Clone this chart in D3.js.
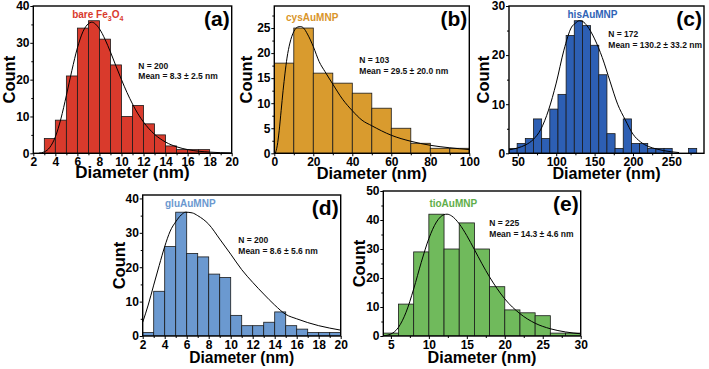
<!DOCTYPE html>
<html><head><meta charset="utf-8">
<script src="https://cdn.jsdelivr.net/npm/d3@7"></script>
<style>
body{margin:0;background:#fff}
svg{display:block}
text{font-family:"Liberation Sans",Arial,Helvetica,sans-serif;font-weight:bold}
</style>
</head><body>
<svg id="chart" width="709" height="369"></svg>
<script>
// ---------- data ----------
// (a) bare Fe3O4
const bareBinStart = 3, bareBinWidth = 1;
const bareCounts = [4,9,21,34,36,31,24,10,13,8,5,2,1,1,1];
const bareCurveX = [2.5,3,3.5,4,4.5,5,5.5,6,6.5,7,7.3,8,8.5,9,9.5,10,10.5,11,11.5,12,13,14,15,16,18,20];
const bareCurveY = [0.03,0.38,1.61,4.47,9.33,15.7,22.5,28.6,33.0,35.2,35.6,33.8,31.0,27.5,23.7,20.0,16.5,13.4,10.7,8.49,5.16,3.05,1.77,1.01,0.32,0.10];
// (b) cysAuMNP
const cysBinStart = 0, cysBinWidth = 10;
const cysCounts = [18,25,16,14,12,9,5,2,1,1];
const cysCurveX = [0.5,1.5,2.5,3.5,4.5,5.5,6.5,8,10,12,13.5,15,17,20,23,26,30,35,40,45,50,60,70,80,90,100];
const cysCurveY = [0,1.5,4.5,8.5,12.5,16,19,22,24.3,25.2,25.3,25,23.8,21.3,18.3,16.3,13.8,10.8,8.5,6.6,5.5,3.6,2.4,1.6,1.1,0.75];
// (c) hisAuMNP
const hisBinStart = 38.5, hisBinWidth = 10.63;
const hisCounts = [1,2,3,7,3,9,12,24,27,26,22,16,4,1,7,2,2,1,1,1,0,0,1];
const hisCurveX = [38.5,50,60,70,80,90,100,110,120,125,130,135,140,150,160,170,180,190,200,210,220,230,240,250,260];
const hisCurveY = [0.7,1.1,1.7,2.8,4.9,8.8,14.3,21,25.7,26.5,27,26.8,26,23.3,19.5,14.7,10,6.8,3.9,2.3,1.4,0.9,0.55,0.3,0.15];
// (d) gluAuMNP
const gluBinStart = 2, gluBinWidth = 1;
const gluCounts = [1,13,26,36,24,23,18,17,6,3,3,4,7,3,2,1,1,1];
const gluCurveX = [2,2.5,3,3.5,4,4.5,5,5.5,5.9,6.5,7,8,9,10,11,12,13,14,15,16,17,18,19,20];
const gluCurveY = [4.0,9,14.8,20.5,26,30.5,33.2,35.2,36,35.8,35,32.5,28.2,23.8,19.3,15.6,12.2,9.0,6.3,5.0,3.9,3.0,2.3,1.7];
// (e) tioAuMNP
const tioBinStart = 4, tioBinWidth = 2;
const tioCounts = [1,11,29,42,30,39,30,17,9,8,7,1,1];
const tioCurveX = [4,5,6,7,8,9,10,11,12,12.4,13,14,15,16,17,18,19,20,22,24,26,28,30];
const tioCurveY = [0.07,0.67,3.0,8.2,16.2,25.4,33.6,39.3,41.85,42,41.4,38.7,34.6,29.8,24.9,20.35,16.3,12.8,7.7,4.4,2.5,1.4,0.76];

// tick values
const aXTicks = [2,4,6,8,10,12,14,16,18,20], aYTicks = [0,10,20,30,40];
const bXTicks = [0,20,40,60,80,100], bYTicks = [0,5,10,15,20,25];
const cXTicks = [50,100,150,200,250], cYTicks = [0,10,20,30];
const dXTicks = [2,4,6,8,10,12,14,16,18,20], dYTicks = [0,10,20,30,40];
const eXTicks = [5,10,15,20,25,30], eYTicks = [0,10,20,30,40,50];

const panelLabels = ["(a)","(b)","(c)","(d)","(e)"];
const stats = [
  ["N = 200","Mean = 8.3 \u00b1 2.5 nm"],
  ["N = 103","Mean = 29.5 \u00b1 20.0 nm"],
  ["N = 172","Mean = 130.2 \u00b1 33.2 nm"],
  ["N = 200","Mean = 8.6 \u00b1 5.6 nm"],
  ["N = 225","Mean = 14.3 \u00b1 4.6 nm"]
];

// ---------- layout ----------
const panels = [
  {id:"a", L:33.3, R:231.7, T:6, B:153.3, xd:[2,20], yd:[0,40], xt:aXTicks, xm:1, yt:aYTicks, ym:5,
   start:bareBinStart, w:bareBinWidth, counts:bareCounts, cx:bareCurveX, cy:bareCurveY,
   color:"#d93a2c", nameColor:"#d93a2c", name:[["bare Fe",0],["3",1],["O",0],["4",1]], nameX:97.8, nameY:18.3,
   statX:138.3, statY:68.5, xtSize:17, xtOff:24.7, ytOff:18.3},
  {id:"b", L:274.3, R:469.3, T:6, B:153.3, xd:[0,100], yd:[0,29.4], xt:bXTicks, xm:10, yt:bYTicks, ym:2.5,
   start:cysBinStart, w:cysBinWidth, counts:cysCounts, cx:cysCurveX, cy:cysCurveY,
   color:"#d99b2e", nameColor:"#d9952a", name:[["cysAuMNP",0]], nameX:312.2, nameY:20.5,
   statX:359.3, statY:63.3, xtSize:16.4, xtOff:25.7, ytOff:22.6},
  {id:"c", L:509, R:704, T:6, B:153.3, xd:[38.5,292.5], yd:[0,30], xt:cXTicks, xm:25, yt:cYTicks, ym:5,
   start:hisBinStart, w:hisBinWidth, counts:hisCounts, cx:hisCurveX, cy:hisCurveY,
   color:"#2d5fb4", nameColor:"#2f63b6", name:[["hisAuMNP",0]], nameX:592.5, nameY:18.3,
   statX:608.3, statY:37.3, xtSize:16.1, xtOff:25.7, ytOff:19.7},
  {id:"d", L:142.7, R:340.7, T:195, B:336, xd:[2,20], yd:[0,41], xt:dXTicks, xm:1, yt:dYTicks, ym:5,
   start:gluBinStart, w:gluBinWidth, counts:gluCounts, cx:gluCurveX, cy:gluCurveY,
   color:"#6b99d0", nameColor:"#6b98cf", name:[["gluAuMNP",0]], nameX:190.3, nameY:206.7,
   statX:238.3, statY:243.3, xtSize:15.6, xtOff:26.7, ytOff:17.7},
  {id:"e", L:383.3, R:580.7, T:191, B:336, xd:[4,30], yd:[0,50], xt:eXTicks, xm:2.5, yt:eYTicks, ym:5,
   start:tioBinStart, w:tioBinWidth, counts:tioCounts, cx:tioCurveX, cy:tioCurveY,
   color:"#70ba5c", nameColor:"#5fae4a", name:[["tioAuMNP",0]], nameX:453.3, nameY:206.7,
   statX:489.3, statY:226, xtSize:16.2, xtOff:27.3, ytOff:18.3}
];

const svg = d3.select("#chart");
const defs = svg.append("defs");

function range(a,b,s){const r=[];for(let v=a;v<=b+1e-9;v+=s)r.push(+v.toFixed(6));return r;}

panels.forEach((p,pi)=>{
  const x = d3.scaleLinear().domain(p.xd).range([p.L,p.R]);
  const y = d3.scaleLinear().domain(p.yd).range([p.B,p.T]);
  defs.append("clipPath").attr("id","clip-"+p.id).append("rect")
    .attr("x",p.L).attr("y",p.T).attr("width",p.R-p.L).attr("height",p.B-p.T);
  const g = svg.append("g");

  // bars
  g.append("g").attr("clip-path","url(#clip-"+p.id+")")
    .selectAll("rect").data(p.counts).join("rect")
    .attr("x",(d,i)=>x(p.start+i*p.w))
    .attr("width",(d,i)=>x(p.start+(i+1)*p.w)-x(p.start+i*p.w))
    .attr("y",d=>y(d)).attr("height",d=>y(0)-y(d))
    .attr("fill",p.color).attr("stroke","#1a1a1a").attr("stroke-width",0.8);

  // fit curve
  const line = d3.line().x(d=>x(d[0])).y(d=>y(d[1])).curve(d3.curveMonotoneX);
  g.append("path").attr("clip-path","url(#clip-"+p.id+")")
    .datum(p.cx.map((v,i)=>[v,p.cy[i]]))
    .attr("d",line).attr("fill","none").attr("stroke","#000").attr("stroke-width",1);

  // minor ticks
  const xMinor = range(Math.ceil(p.xd[0]/p.xm)*p.xm, p.xd[1], p.xm).filter(v=>!p.xt.includes(v));
  const yMinor = range(0, p.yd[1], p.ym).filter(v=>!p.yt.includes(v));
  g.append("g").attr("transform",`translate(0,${p.B})`)
    .call(d3.axisBottom(x).tickValues(xMinor).tickSize(2).tickSizeOuter(0).tickFormat(""))
    .call(s=>s.select(".domain").remove());
  g.append("g").attr("transform",`translate(${p.L},0)`)
    .call(d3.axisLeft(y).tickValues(yMinor).tickSize(2).tickSizeOuter(0).tickFormat(""))
    .call(s=>s.select(".domain").remove());

  // major ticks
  const xa = g.append("g").attr("transform",`translate(0,${p.B})`)
    .call(d3.axisBottom(x).tickValues(p.xt).tickSize(3).tickPadding(1).tickSizeOuter(0).tickFormat(d3.format("d")));
  xa.select(".domain").remove();
  xa.selectAll("text").attr("font-size",12).attr("fill","#000");
  const ya = g.append("g").attr("transform",`translate(${p.L},0)`)
    .call(d3.axisLeft(y).tickValues(p.yt).tickSize(3).tickPadding(0.8).tickSizeOuter(0).tickFormat(d3.format("d")));
  ya.select(".domain").remove();
  ya.selectAll("text").attr("font-size",12).attr("fill","#000");
  g.selectAll(".tick line").attr("stroke","#000").attr("stroke-width",1);

  // frame
  g.append("rect").attr("x",p.L).attr("y",p.T).attr("width",p.R-p.L).attr("height",p.B-p.T)
    .attr("fill","none").attr("stroke","#000").attr("stroke-width",1.4);

  // axis titles
  g.append("text").attr("x",(p.L+p.R)/2).attr("y",p.B+p.xtOff).attr("text-anchor","middle")
    .attr("font-size",p.xtSize).text("Diameter (nm)");
  g.append("text").attr("transform",`translate(${p.L-p.ytOff},${(p.T+p.B)/2}) rotate(-90)`)
    .attr("text-anchor","middle").attr("font-size",16.5).text("Count");

  // panel label
  g.append("text").attr("x",p.R-2).attr("y",p.T+20.4).attr("text-anchor","end")
    .attr("font-size",21).text(panelLabels[pi]);

  // sample name
  const nt = g.append("text").attr("x",p.nameX).attr("y",p.nameY).attr("text-anchor","middle")
    .attr("font-size",10).attr("fill",p.nameColor);
  p.name.forEach(([s,sub])=>{
    const t = nt.append("tspan").text(s);
    if(sub){t.attr("font-size",7).attr("dy",2.5);} else {t.attr("dy", nt.selectAll("tspan").size()>1 ? -2.5 : 0);}
  });

  // stats
  stats[pi].forEach((s,k)=>{
    g.append("text").attr("x",p.statX).attr("y",p.statY+k*10.8).attr("font-size",8.5).attr("fill","#111").text(s);
  });
});
</script>
</body></html>
